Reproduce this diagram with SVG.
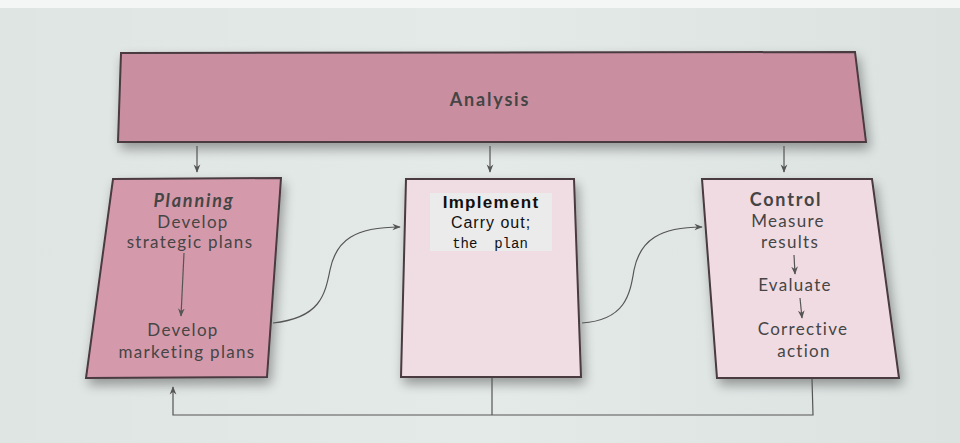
<svg xmlns="http://www.w3.org/2000/svg" width="960" height="443" viewBox="0 0 960 443">
<defs>
<linearGradient id="bg" x1="0" y1="0" x2="1" y2="0">
<stop offset="0" stop-color="#dfe5e3"/>
<stop offset="0.5" stop-color="#e4eae8"/>
<stop offset="1" stop-color="#dbe2e0"/>
</linearGradient>
<filter id="sh" x="-20%" y="-20%" width="150%" height="150%">
<feGaussianBlur in="SourceAlpha" stdDeviation="6"/>
<feOffset dx="3" dy="6" result="b"/>
<feComponentTransfer><feFuncA type="linear" slope="0.35"/></feComponentTransfer>
<feMerge><feMergeNode/><feMergeNode in="SourceGraphic"/></feMerge>
</filter>
<marker id="ah" viewBox="0 0 10 10" refX="9" refY="5" markerWidth="7" markerHeight="7" orient="auto">
<path d="M0,1 L10,5 L0,9 L3,5 z" fill="#555"/>
</marker>
</defs>
<style>
.box{stroke:#4a3a40;stroke-width:2;filter:url(#sh)}
.t{font-family:Lato,"Open Sans",sans-serif;font-size:17px;letter-spacing:1.3px;fill:#454545;text-anchor:middle}
.b{font-weight:bold;font-size:18px;letter-spacing:1.8px}
.ln{fill:none;stroke:#555;stroke-width:1.2}
</style>
<rect width="960" height="443" fill="url(#bg)"/>
<rect x="0" y="0" width="960" height="8" fill="#f4f6f5"/>

<g id="analysis">
<polygon class="box" points="121,53 855,52 866,142 118,142" fill="#c98fa0"/>
<text class="t b" x="490" y="106">Analysis</text>
</g>

<g id="planning">
<polygon class="box" points="113,179 281,178 267,377 86,378" fill="#d49aac"/>
<text class="t b" x="194" y="207" font-style="italic" font-size="19px">Planning</text>
<text class="t" x="193" y="228">Develop</text>
<text class="t" x="190" y="248">strategic plans</text>
<text class="t" x="183" y="336">Develop</text>
<text class="t" x="187" y="358">marketing plans</text>
</g>

<g id="implement">
<polygon class="box" points="406,179 574,179 581,377 401,377" fill="#efdde3"/>
<rect x="430" y="193" width="122" height="58" fill="#ebebeb"/>
<text x="491" y="208" font-family="'Liberation Sans',Arial,sans-serif" font-weight="bold" font-size="17" letter-spacing="1.3" fill="#111" text-anchor="middle">Implement</text>
<text x="491" y="228" font-family="'Liberation Sans',Arial,sans-serif" font-size="16" letter-spacing="1" fill="#111" text-anchor="middle">Carry out;</text>
<text x="490" y="248" font-family="'Liberation Mono',monospace" font-size="14" fill="#111" text-anchor="middle" xml:space="preserve">the  plan</text>
</g>

<g id="control">
<polygon class="box" points="702,179 872,179 899,378 717,378" fill="#f0dbe2"/>
<text class="t b" x="786" y="206">Control</text>
<text class="t" x="788" y="227">Measure</text>
<text class="t" x="790" y="248">results</text>
<text class="t" x="795" y="291">Evaluate</text>
<text class="t" x="803" y="335">Corrective</text>
<text class="t" x="804" y="357">action</text>
</g>

<g id="connectors">
<line class="ln" x1="197" y1="146" x2="197" y2="172" marker-end="url(#ah)"/>
<line class="ln" x1="490" y1="146" x2="490" y2="172" marker-end="url(#ah)"/>
<line class="ln" x1="784" y1="146" x2="784" y2="172" marker-end="url(#ah)"/>
<line class="ln" x1="184" y1="253" x2="181" y2="316" marker-end="url(#ah)"/>
<line class="ln" x1="794" y1="255" x2="795" y2="274" marker-end="url(#ah)"/>
<line class="ln" x1="800" y1="298" x2="802" y2="318" marker-end="url(#ah)"/>
<path class="ln" d="M273,323 C320,318 325,295 330,270 C336,240 355,227 400,227" marker-end="url(#ah)"/>
<path class="ln" d="M582,323 C625,320 630,295 634,270 C640,240 660,227 702,227" marker-end="url(#ah)"/>
<polyline class="ln" points="812,379 813,415 173,415 173,387" marker-end="url(#ah)"/>
<line class="ln" x1="492" y1="378" x2="492" y2="415"/>
</g>
</svg>
